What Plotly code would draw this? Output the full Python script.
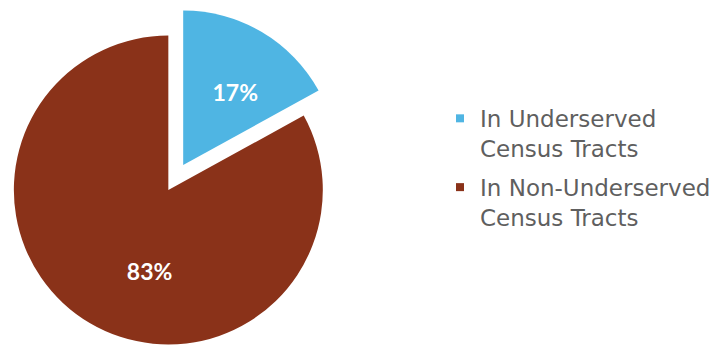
import plotly.graph_objects as go

labels = ["In Underserved<br>Census Tracts", "In Non-Underserved<br>Census Tracts"]
values = [17, 83]
colors = ["#4fb5e3", "#8a3219"]
LEG_FONT = "DejaVu Sans, sans-serif"
PCT_FONT = "Lato, sans-serif"

W, H = 716, 346
R = 156
brown_c = (170, 190)
blue_c = (185, 165)

def dom(c):
    x0, x1 = (c[0] - R) / W, (c[0] + R) / W
    y0, y1 = (H - (c[1] + R)) / H, (H - (c[1] - R)) / H
    return dict(x=[max(0, x0), min(1, x1)], y=[max(0, y0), min(1, y1)])

fig = go.Figure()
# brown slice
fig.add_trace(go.Pie(
    labels=labels, values=values, sort=False, direction="clockwise", rotation=0,
    marker=dict(colors=["rgba(0,0,0,0)", colors[1]], line=dict(width=0)),
    texttemplate=["", " <br>&nbsp;&nbsp;&nbsp;&nbsp;&nbsp;&nbsp;&nbsp;<b>%{percent:.0%}</b>"],
    textposition="inside", insidetextorientation="horizontal",
    textfont=dict(family=PCT_FONT, size=23, color="white"),
    domain=dom(brown_c), showlegend=False, hoverinfo="skip"))
# blue slice (pulled out)
fig.add_trace(go.Pie(
    labels=labels, values=values, sort=False, direction="clockwise", rotation=0,
    marker=dict(colors=[colors[0], "rgba(0,0,0,0)"], line=dict(width=0)),
    texttemplate=[" <br><b>%{percent:.0%}</b>", ""], textposition="inside",
    insidetextorientation="horizontal",
    textfont=dict(family=PCT_FONT, size=23, color="white"),
    domain=dom(blue_c), showlegend=False, hoverinfo="skip"))

for i, (lab, col) in enumerate(zip(labels, colors)):
    fig.add_trace(go.Scatter(x=[None], y=[None], mode="markers", name=lab,
                             legendgroup=f"g{i}",
                             marker=dict(symbol="square", size=8, color=col),
                             showlegend=True, hoverinfo="skip"))

fig.update_layout(
    width=W, height=H, margin=dict(l=0, r=0, t=0, b=0),
    paper_bgcolor="white", plot_bgcolor="white",
    xaxis=dict(visible=False), yaxis=dict(visible=False),
    legend=dict(x=0.621, y=0.72, xanchor="left", yanchor="top",
                valign="top", tracegroupgap=6,
                font=dict(family=LEG_FONT, size=23, color="#5f5f5f")),
)
fig.write_html("out.html")
